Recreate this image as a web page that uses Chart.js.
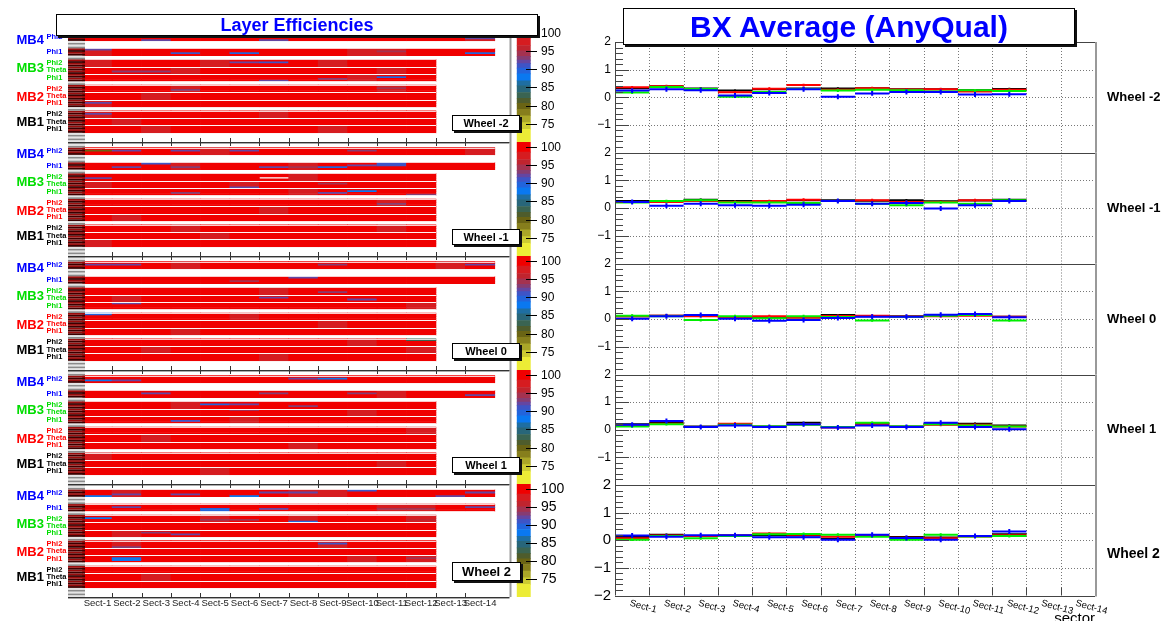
<!DOCTYPE html>
<html>
<head>
<meta charset="utf-8">
<title>Layer Efficiencies / BX Average</title>
<script src="https://cdn.jsdelivr.net/npm/chart.js@4.4.1/dist/chart.umd.min.js"></script>
<style>
  html, body { margin: 0; padding: 0; background: #fff; }
  body { width: 1165px; height: 621px; position: relative; overflow: hidden;
         font-family: "Liberation Sans", Arial, sans-serif; }
  canvas { position: absolute; }
  .pave { position: absolute; background: #fff; border: 1px solid #000; box-sizing: border-box;
          box-shadow: 2px 2px 0 #111; text-align: center; font-weight: bold; white-space: nowrap; }
</style>
</head>
<body>
<script>
// ---------------- data ----------------
const sectorLabels = ['Sect-1','Sect-2','Sect-3','Sect-4','Sect-5','Sect-6','Sect-7',
  'Sect-8','Sect-9','Sect-10','Sect-11','Sect-12','Sect-13','Sect-14'];
const wheelNames = ['Wheel -2', 'Wheel -1', 'Wheel 0', 'Wheel 1', 'Wheel 2'];
const stationNames = ['MB1', 'MB2', 'MB3', 'MB4'];

// superlayer rows, bottom to top: [station index, superlayer name]
const slList = [[0,'Phi1'],[0,'Theta'],[0,'Phi2'],[1,'Phi1'],[1,'Theta'],[1,'Phi2'],
  [2,'Phi1'],[2,'Theta'],[2,'Phi2'],[3,'Phi1'],[3,'Phi2']];
// first layer bin of each superlayer on the y axis (4 layers each), 62 bins in total
const slFirstBin = [5, 9, 13, 19, 23, 27, 33, 37, 41, 47, 55];
const nLayerBins = 62;

// layer efficiency (%) per superlayer and sector, same row order as slList
const effWheelM2 = [
  [99,99,97.5,99,99,99,99,99,97.5,99,99,99],
  [99,97.5,99,99,99,99,99,99,99,99,99,99],
  [97.5,99,99,99,99,99,97.5,99,99,99,99,99],
  [97.5,99,99,99,99,99,99,99,99,99,99,99],
  [99,99,97.5,99,99,99,99,99,99,99,99,99],
  [99,99,99,97.5,99,99,99,99,99,99,97.5,99],
  [99,99,99,99,99,99,99,99,99,97.5,99,99],
  [99,99,99,97.5,99,99,99,99,99,99,97.5,99],
  [97.5,99,99,99,97.5,99,99,99,97.5,99,99,99],
  [97.5,99,99,99,99,99,99,99,99,97.5,97.5,99,99,99],
  [99,99,99,99,99,99,99,99,99,99,99,99,99,97.5]
];
const effWheelM1 = [
  [97.5,99,99,99,99,99,99,99,99,99,99,99],
  [99,99,99,99,97.5,99,99,99,99,99,99,99],
  [99,99,99,97.5,99,99,99,99,99,99,97.5,99],
  [99,97.5,99,99,99,99,99,99,99,99,99,99],
  [99,99,99,99,99,99,97.5,99,99,99,99,99],
  [99,99,99,99,99,99,99,99,99,99,97.5,99],
  [99,99,99,99,99,99,99,97.5,99,99,99,99],
  [97.5,99,99,99,99,97.5,99,99,99,99,99,99],
  [99,99,99,99,99,99,99,97.5,99,99,99,99],
  [99,99,99,97.5,99,99,99,97.5,99,99,99,99,99,99],
  [99,99,99,99,97.5,99,99,99,99,99,99,99,99,97.5]
];
const effWheel0 = [
  [99,99,99,99,99,99,97.5,99,99,99,99,99],
  [99,99,97.5,99,99,99,99,99,99,99,99,97.5],
  [99,99,99,99,99,99,99,99,99,97.5,99,99],
  [99,99,99,97.5,99,99,99,99,99,99,99,99],
  [99,99,99,99,99,99,99,99,97.5,99,99,99],
  [99,99,99,99,99,97.5,99,99,99,99,99,99],
  [99,99,99,99,99,99,99,99,99,99,99,97.5],
  [99,97.5,99,99,99,99,99,99,99,99,99,99],
  [99,99,99,99,99,99,97.5,99,99,99,99,99],
  [99,99,99,99,99,99,99,99,99,99,99,99,99,99],
  [99,99,99,97.5,99,99,99,99,99,99,99,99,97.5,99]
];
const effWheelP1 = [
  [99,99,99,99,97.5,99,99,99,99,99,99,99],
  [99,99,99,99,99,99,99,99,99,99,97.5,99],
  [97.5,99,99,99,99,99,99,99,99,99,99,99],
  [99,99,99,99,99,99,99,97.5,99,99,99,99],
  [99,99,97.5,99,99,99,99,99,99,99,99,99],
  [99,99,99,99,99,99,99,99,99,99,99,97.5],
  [99,99,99,99,99,97.5,99,99,99,99,99,99],
  [99,99,99,99,99,99,99,99,99,97.5,99,99],
  [99,99,99,97.5,99,99,99,99,99,99,99,99],
  [99,99,99,99,99,99,99,99,99,99,97.5,99,99,99],
  [99,99,99,99,99,99,99,99,99,99,99,99,99,99]
];
const effWheelP2 = [
  [99,99,99,99,99,99,99,99,99,99,99,99],
  [99,99,97.5,99,99,99,99,99,99,99,99,99],
  [99,99,99,99,99,99,99,99,99,99,99,99],
  [99,99,99,99,99,99,99,99,99,97.5,99,97.5],
  [99,99,99,99,99,99,99,99,99,99,99,99],
  [99,97.5,99,99,99,99,99,99,97.5,99,99,99],
  [99,97.5,99,99,99,99,99,99,99,99,99,99],
  [99,99,99,99,99,99,99,99,99,99,99,99],
  [99,99,99,99,97.5,99,99,97.5,99,99,99,97.5],
  [99,99,99,99,99,99,99,99,99,99,97.5,97.5,99,99],
  [99,97.5,99,99,99,99,99,97.5,97.5,99,99,99,99,99]
];
const effRows = [effWheelM2, effWheelM1, effWheel0, effWheelP1, effWheelP2];

// single layers that differ from their superlayer: [slIndex, layer, sector, eff]
const layerWheelM2 = [[10,0,3,92],[10,0,7,92],[10,1,14,92],[9,3,1,92],[9,1,4,91],[9,1,6,90],
  [9,2,11,94],[9,1,14,89],[8,2,6,92],[8,2,7,91],[7,1,2,93],[7,1,3,93],[6,0,7,92],[6,1,9,93],
  [6,2,11,90],[5,1,4,93],[5,2,11,94],[3,2,1,92],[2,2,1,92]];
const layerWheelM1 = [[10,2,1,80],[10,2,2,92],[10,2,4,92],[10,2,6,92],[10,2,10,93],[9,1,2,92],
  [9,3,3,91],[9,1,4,93],[9,1,7,92],[9,1,8,94],[9,1,9,89],[9,2,10,92],[9,2,11,91],[9,3,11,91],
  [8,1,1,92],[8,1,7,0],[7,0,6,92],[7,2,9,94],[6,1,4,93],[6,2,10,87],[6,1,9,92],[6,0,12,93],
  [5,1,11,93]];
const layerWheel0 = [[10,2,1,92],[10,2,2,92],[10,2,9,93],[10,2,14,92],[9,3,8,92],[9,1,6,94],
  [7,2,7,92],[7,1,10,92],[8,1,9,93],[6,3,2,92],[5,3,1,90],[2,3,12,82]];
const layerWheelP1 = [[10,1,1,88],[10,1,2,92],[10,2,8,92],[10,2,9,88],[9,2,3,92],[9,1,14,92],
  [9,2,10,93],[9,2,7,93],[8,2,5,90],[8,2,6,92],[7,3,6,93],[6,1,4,91],[8,1,8,93]];
const layerWheelP2 = [[10,0,1,88],[10,1,2,92],[10,1,4,92],[10,0,6,87],[10,2,7,92],[10,2,8,92],
  [10,3,10,91],[10,0,13,92],[10,2,14,92],[9,2,2,92],[9,0,5,89],[9,1,5,89],[9,1,7,92],
  [9,1,11,94],[9,1,12,94],[9,2,14,92],[8,2,1,88],[8,1,5,94],[8,1,6,94],[8,0,8,90],[8,1,12,95],
  [6,2,3,93],[6,1,4,92],[5,0,2,93],[5,2,9,91],[3,2,2,87],[3,1,2,87],[3,2,12,94]];
const layerRows = [layerWheelM2, layerWheelM1, layerWheel0, layerWheelP1, layerWheelP2];

// colour scale: [lower edge, colour], top band first; colour bar runs 70 .. 101.3
const effBands = [[98.5,'#f00000'],[96.5,'#d61c20'],[95,'#c0242e'],[93.5,'#a43250'],
  [92.5,'#863c72'],[91.5,'#6446a2'],[90.3,'#3e54c6'],[88.7,'#2264dc'],[86.8,'#0a78f0'],
  [85.4,'#1e6ea2'],[83.6,'#28667a'],[82,'#3a6452'],[80.6,'#4e5c2c'],[79,'#6a6414'],
  [77.2,'#867e1c'],[75.3,'#aaa628'],[73.5,'#cccb32'],[70,'#ecec36']];
const effMin = 70, effMax = 101.3;
const cbarTicks = [75, 80, 85, 90, 95, 100];

// BX average per sector (sectors 1..12), per wheel, per station
const bxMB1 = [
  [0.33,0.40,0.32,0.24,0.29,0.32,0.32,0.33,0.29,0.29,0.25,0.30],
  [0.25,0.25,0.30,0.25,0.25,0.28,0.28,0.26,0.28,0.24,0.27,0.30],
  [0.10,0.12,0.12,0.06,0.04,0.05,0.14,0.10,0.10,0.12,0.15,0.08],
  [0.20,0.25,0.12,0.20,0.12,0.25,0.10,0.22,0.12,0.20,0.22,0.15],
  [0.12,0.20,0.15,0.17,0.18,0.17,0.05,0.17,0.12,0.10,0.15,0.22]];
const bxMB2 = [
  [0.36,0.40,0.29,0.18,0.31,0.44,0.27,0.33,0.28,0.29,0.21,0.27],
  [0.22,0.22,0.25,0.22,0.25,0.30,0.25,0.28,0.22,0.22,0.28,0.25],
  [0.10,0.12,0.10,0.06,0.10,0.05,0.11,0.12,0.10,0.10,0.12,0.08],
  [0.15,0.22,0.10,0.22,0.10,0.20,0.08,0.20,0.10,0.18,0.18,0.12],
  [0.07,0.17,0.15,0.17,0.24,0.20,0.13,0.16,0.09,0.07,0.14,0.18]];
const bxMB3 = [
  [0.17,0.37,0.30,0.02,0.19,0.30,0.24,0.27,0.25,0.21,0.25,0.23],
  [0.20,0.25,0.28,0.20,0.20,0.18,0.25,0.15,0.10,0.20,0.15,0.28],
  [0.12,0.10,-0.04,0.10,0.03,0.10,0.07,-0.05,0.08,0.12,0.14,-0.05],
  [0.12,0.20,0.10,0.18,0.12,0.18,0.10,0.25,0.12,0.20,0.15,0.12],
  [0.02,0.15,0.07,0.15,0.22,0.23,0.20,0.13,0.02,0.20,0.14,0.15]];
const bxMB4 = [
  [0.24,0.29,0.25,0.06,0.15,0.29,0.02,0.14,0.19,0.19,0.10,0.11],
  [0.22,0.08,0.15,0.10,0.08,0.12,0.25,0.15,0.18,-0.02,0.10,0.25],
  [0.01,0.10,0.14,0.01,-0.06,-0.04,0.04,0.08,0.08,0.15,0.18,0.06],
  [0.18,0.32,0.10,0.15,0.10,0.20,0.08,0.15,0.10,0.25,0.10,0.02],
  [0.17,0.13,0.18,0.18,0.11,0.11,0.02,0.20,0.08,0.02,0.15,0.32]];
const bxErr = [0.04, 0.05, 0.05, 0.09]; // typical error bar per station
const bxColors = ['#000000', '#ff0000', '#00ee00', '#0000ff'];
const yTickLabels = ['2', '1', '0', '\u22121', '\u22122'];
const wheelLabelAt = [0, 0, 0, 0, -0.5];

// ---------------- layout ----------------
const leftTops = [28, 142, 256, 370, 484];
const leftBottoms = [142, 256, 370, 484, 597];
const rightTops = [42, 152.5, 263.5, 374.5, 485];
const rightBottoms = [152.5, 263.5, 374.5, 485, 595.5];
const stationColors = ['#000000', '#ff0000', '#00dd00', '#0000ff'];
const FONT = '"Liberation Sans", Arial, sans-serif';

function effColor(v) {
  for (const [lo, c] of effBands) if (v >= lo) return c;
  return null;
}

function makeCanvas(left, top, width, height, z) {
  const c = document.createElement('canvas');
  c.width = width; c.height = height;
  c.style.left = left + 'px'; c.style.top = top + 'px';
  c.style.width = width + 'px'; c.style.height = height + 'px';
  c.style.zIndex = z;
  document.body.appendChild(c);
  return c.getContext('2d');
}

function addPave(text, left, top, width, height, fontSize, color, z) {
  const d = document.createElement('div');
  d.className = 'pave';
  d.textContent = text;
  Object.assign(d.style, {
    left: left + 'px', top: top + 'px', width: width + 'px', height: height + 'px',
    fontSize: fontSize + 'px', lineHeight: (height - 2) + 'px', color: color, zIndex: z
  });
  document.body.appendChild(d);
}

const baseOptions = (padding) => ({
  responsive: false,
  animation: false,
  events: [],
  layout: { padding },
  plugins: { legend: { display: false }, tooltip: { enabled: false } }
});

// ---------------- left: layer efficiency maps ----------------
const heatDecor = {
  id: 'heatDecor',
  afterDatasetsDraw(chart) {
    const { ctx, chartArea: ca, scales: { x, y } } = chart;
    const w = chart.options.plugins.heatDecor.wheel;
    ctx.save();
    // light lines between superlayers
    ctx.strokeStyle = 'rgba(255,255,255,0.8)';
    ctx.lineWidth = 1;
    slFirstBin.forEach((b, s) => {
      const nSec = effRows[w][s].length;
      [b, b + 4].forEach((edge) => {
        const py = Math.round(y.getPixelForValue(edge)) + 0.5;
        ctx.beginPath();
        ctx.moveTo(x.getPixelForValue(0), py);
        ctx.lineTo(x.getPixelForValue(nSec), py);
        ctx.stroke();
      });
    });
    // layer stripe column
    for (let r = 0; r < nLayerBins; r++) {
      const filled = slFirstBin.some((b) => r >= b && r < b + 4);
      ctx.fillStyle = filled ? (r % 2 ? '#3a0000' : '#9a0c0c') : (r % 2 ? '#8a8a8a' : '#e4e4e4');
      const y0 = y.getPixelForValue(r + 1), y1 = y.getPixelForValue(r);
      ctx.fillRect(ca.left, y0, 17, y1 - y0);
    }
    // frame and ticks
    ctx.strokeStyle = '#333';
    ctx.lineWidth = 1;
    ctx.beginPath();
    ctx.moveTo(ca.left, ca.bottom + 0.5); ctx.lineTo(ca.right, ca.bottom + 0.5);
    ctx.moveTo(ca.left, ca.top + 0.5); ctx.lineTo(ca.right, ca.top + 0.5);
    for (let k = 1; k < sectorLabels.length; k++) {
      const px = Math.round(x.getPixelForValue(k)) + 0.5;
      ctx.moveTo(px, ca.bottom); ctx.lineTo(px, ca.bottom - 4);
      ctx.moveTo(px, ca.top); ctx.lineTo(px, ca.top + 4);
    }
    ctx.stroke();
    ctx.strokeStyle = '#aaa';
    ctx.beginPath();
    ctx.moveTo(ca.left, ca.bottom + 1.5); ctx.lineTo(ca.right, ca.bottom + 1.5);
    ctx.stroke();
    ctx.lineWidth = 2;
    ctx.strokeStyle = '#9a9a9a';
    ctx.beginPath();
    ctx.moveTo(ca.right + 1, ca.top); ctx.lineTo(ca.right + 1, ca.bottom);
    ctx.stroke();
    ctx.restore();
  },
  afterDraw(chart) {
    const { ctx, chartArea: ca, scales: { x, y } } = chart;
    const w = chart.options.plugins.heatDecor.wheel;
    ctx.save();
    ctx.textBaseline = 'middle';
    // station labels
    const stationCentre = [10.5, 24.5, 40, 55];
    stationNames.forEach((name, st) => {
      ctx.fillStyle = stationColors[st];
      ctx.font = 'bold 13px ' + FONT;
      ctx.textAlign = 'left';
      ctx.fillText(name, 16.5, y.getPixelForValue(stationCentre[st]));
    });
    ctx.font = 'bold 7.5px ' + FONT;
    slList.forEach(([st, sl], s) => {
      ctx.fillStyle = stationColors[st];
      ctx.fillText(sl, 46.5, y.getPixelForValue(slFirstBin[s] + 2));
    });
    if (w === wheelNames.length - 1) {
      ctx.fillStyle = '#222';
      ctx.font = '9.5px ' + FONT;
      ctx.textAlign = 'center';
      ctx.textBaseline = 'top';
      sectorLabels.forEach((lab, k) => ctx.fillText(lab, x.getPixelForValue(k + 0.5), ca.bottom + 2));
    }
    ctx.restore();
  }
};

function buildHeatmap(w) {
  const top = leftTops[w], bottom = leftBottoms[w];
  const padB = w === 4 ? 24 : 12;
  const cw = 560;
  const ctx = makeCanvas(0, top - 12, cw, bottom - top + 12 + padB, 3);
  const eff = {};
  effRows[w].forEach((row, s) => row.forEach((v, k) => {
    for (let l = 0; l < 4; l++) eff[s + '-' + l + '-' + (k + 1)] = v;
  }));
  layerRows[w].forEach(([s, l, sec, v]) => { eff[s + '-' + l + '-' + sec] = v; });
  const cells = [];
  Object.keys(eff).forEach((key) => {
    const [s, l, sec] = key.split('-').map(Number);
    const v = eff[key];
    if (v < effMin) return;
    cells.push({ x: sec - 0.5, y: [slFirstBin[s] + l, slFirstBin[s] + l + 1], v });
  });
  const options = baseOptions({ left: 68, right: cw - 509.5, top: 12, bottom: padB });
  options.scales = {
    x: { type: 'linear', min: 0, max: 14, display: false, ticks: { stepSize: 1 } },
    y: { type: 'linear', min: 0, max: nLayerBins, display: false, ticks: { stepSize: 10 } }
  };
  options.plugins.heatDecor = { wheel: w };
  new Chart(ctx, {
    type: 'bar',
    data: {
      datasets: [{
        data: cells,
        backgroundColor: (c) => (c.raw ? effColor(c.raw.v) : '#f00'),
        borderWidth: 0,
        barPercentage: 1,
        categoryPercentage: 1
      }]
    },
    options,
    plugins: [heatDecor]
  });
}

const cbarDecor = {
  id: 'cbarDecor',
  afterDatasetsDraw(chart) {
    const { ctx, chartArea: ca, scales: { y } } = chart;
    const big = chart.options.plugins.cbarDecor.big;
    ctx.save();
    ctx.strokeStyle = '#000';
    ctx.lineWidth = 1;
    ctx.fillStyle = '#000';
    ctx.font = (big ? 14 : 12) + 'px ' + FONT;
    ctx.textBaseline = 'middle';
    ctx.textAlign = 'left';
    cbarTicks.forEach((t) => {
      const py = Math.round(y.getPixelForValue(t)) + 0.5;
      ctx.beginPath(); ctx.moveTo(ca.right - 11, py); ctx.lineTo(ca.right, py); ctx.stroke();
      ctx.fillText(String(t), ca.right + 4, py);
    });
    ctx.restore();
  }
};

function buildColorBar(w) {
  const top = leftTops[w], bottom = leftBottoms[w];
  const cw = 75;
  const ctx = makeCanvas(500, top - 12, cw, bottom - top + 24, 1);
  const bands = effBands.map(([lo, c], i) => ({ x: 0.5, y: [lo, i === 0 ? effMax : effBands[i - 1][0]], c }));
  const options = baseOptions({ left: 10.5, right: cw - 37, top: 12, bottom: 12 });
  options.scales = {
    x: { type: 'linear', min: 0, max: 1, display: false, ticks: { stepSize: 1 } },
    y: { type: 'linear', min: effMin, max: effMax, display: false }
  };
  options.plugins.cbarDecor = { big: w === 4 };
  new Chart(ctx, {
    type: 'bar',
    data: { datasets: [{ data: bands, backgroundColor: (c) => (c.raw ? c.raw.c : '#fff'),
      borderWidth: 0, barPercentage: 1, categoryPercentage: 1 }] },
    options,
    plugins: [cbarDecor]
  });
}

// ---------------- right: BX average ----------------
const bxDecor = {
  id: 'bxDecor',
  beforeDatasetsDraw(chart) {
    const { ctx, chartArea: ca, scales: { x, y } } = chart;
    ctx.save();
    ctx.strokeStyle = '#777';
    ctx.lineWidth = 1;
    ctx.setLineDash([1, 2]);
    ctx.beginPath();
    for (let k = 1; k < sectorLabels.length; k++) {
      const px = Math.round(x.getPixelForValue(k)) + 0.5;
      ctx.moveTo(px, ca.top); ctx.lineTo(px, ca.bottom);
    }
    [1, 0, -1].forEach((v) => {
      const py = Math.round(y.getPixelForValue(v)) + 0.5;
      ctx.moveTo(ca.left, py); ctx.lineTo(ca.right, py);
    });
    ctx.stroke();
    ctx.restore();
  },
  afterDraw(chart) {
    const { ctx, chartArea: ca, scales: { x, y } } = chart;
    const w = chart.options.plugins.bxDecor.wheel;
    const last = w === wheelNames.length - 1;
    ctx.save();
    ctx.lineWidth = 1;
    ctx.strokeStyle = '#444';
    ctx.beginPath();
    ctx.moveTo(ca.left, Math.round(ca.top) + 0.5); ctx.lineTo(ca.right, Math.round(ca.top) + 0.5);
    ctx.moveTo(ca.left + 0.5, ca.top); ctx.lineTo(ca.left + 0.5, ca.bottom);
    if (last) {
      ctx.moveTo(ca.left, Math.round(ca.bottom) + 0.5); ctx.lineTo(ca.right, Math.round(ca.bottom) + 0.5);
      for (let k = 1; k < sectorLabels.length; k++) {
        const px = Math.round(x.getPixelForValue(k)) + 0.5;
        ctx.moveTo(px, ca.bottom); ctx.lineTo(px, ca.bottom - 8);
      }
    }
    // y ticks every 0.2, longer at integers
    for (let i = -10; i <= 10; i++) {
      const py = Math.round(y.getPixelForValue(i / 5)) + 0.5;
      ctx.moveTo(ca.left, py); ctx.lineTo(ca.left + (i % 5 === 0 ? 14 : 8), py);
    }
    ctx.stroke();
    ctx.strokeStyle = '#999';
    ctx.lineWidth = 2;
    ctx.beginPath();
    ctx.moveTo(ca.right + 1, ca.top); ctx.lineTo(ca.right + 1, ca.bottom + (last ? 1 : 0));
    ctx.stroke();
    // y labels
    ctx.fillStyle = '#000';
    ctx.font = (last ? 15 : 12) + 'px ' + FONT;
    ctx.textAlign = 'right';
    ctx.textBaseline = 'middle';
    yTickLabels.forEach((lab, i) => {
      if (i === 4 && !last) return;
      ctx.fillText(lab, ca.left - 4, y.getPixelForValue(2 - i));
    });
    // wheel label
    ctx.font = 'bold ' + (last ? 14 : 13) + 'px ' + FONT;
    ctx.textAlign = 'left';
    ctx.fillText(wheelNames[w], ca.right + 12, y.getPixelForValue(wheelLabelAt[w]));
    if (last) {
      ctx.font = '9.5px ' + FONT;
      ctx.textBaseline = 'top';
      sectorLabels.forEach((lab, k) => {
        ctx.save();
        ctx.translate(x.getPixelForValue(k + 0.5) - 1, ca.bottom + 3);
        ctx.rotate(15 * Math.PI / 180);
        ctx.fillText(lab, 0, 0);
        ctx.restore();
      });
      ctx.font = '15px ' + FONT;
      ctx.textAlign = 'right';
      ctx.fillText('sector', ca.right, ca.bottom + 16);
    }
    ctx.restore();
  }
};

function buildBx(w) {
  const last = w === 4;
  const cTop = Math.floor(rightTops[w]) - 12;
  const cBottom = last ? 622 : Math.ceil(rightBottoms[w]) + 12;
  const cw = 605;
  const ctx = makeCanvas(560, cTop, cw, cBottom - cTop, 2);
  const series = [bxMB1[w], bxMB2[w], bxMB3[w], bxMB4[w]];
  const datasets = [];
  [3, 2, 1, 0].forEach((st) => {
    const steps = [], bars = [];
    series[st].forEach((v, k) => {
      steps.push({ x: k, y: v }, { x: k + 1, y: v }, { x: k + 1, y: null });
      bars.push({ x: k + 0.5, y: v - bxErr[st] }, { x: k + 0.5, y: v + bxErr[st] }, { x: k + 0.5, y: null });
    });
    [steps, bars].forEach((data) => datasets.push({
      data, borderColor: bxColors[st], borderWidth: 2, pointRadius: 0,
      spanGaps: false, fill: false, tension: 0
    }));
  });
  const options = baseOptions({ left: 55, right: cw - 535, top: rightTops[w] - cTop,
    bottom: (cBottom - cTop) - (rightBottoms[w] - cTop) });
  options.scales = {
    x: { type: 'linear', min: 0, max: 14, display: false },
    y: { type: 'linear', min: -2, max: 2, display: false }
  };
  options.plugins.bxDecor = { wheel: w };
  new Chart(ctx, { type: 'line', data: { datasets }, options, plugins: [bxDecor] });
}

wheelNames.forEach((name, w) => {
  buildColorBar(w);
  buildHeatmap(w);
  buildBx(w);
  const big = w === 4;
  addPave(name, 452, leftBottoms[w] - (big ? 35 : 27.5), big ? 69 : 68, big ? 19 : 16, big ? 13 : 11, '#000', 5);
});
addPave('Layer Efficiencies', 56, 14, 482, 22, 18, '#0000ff', 6);
addPave('BX Average (AnyQual)', 623, 8, 452, 37, 30, '#0000ff', 6);
</script>
</body>
</html>
